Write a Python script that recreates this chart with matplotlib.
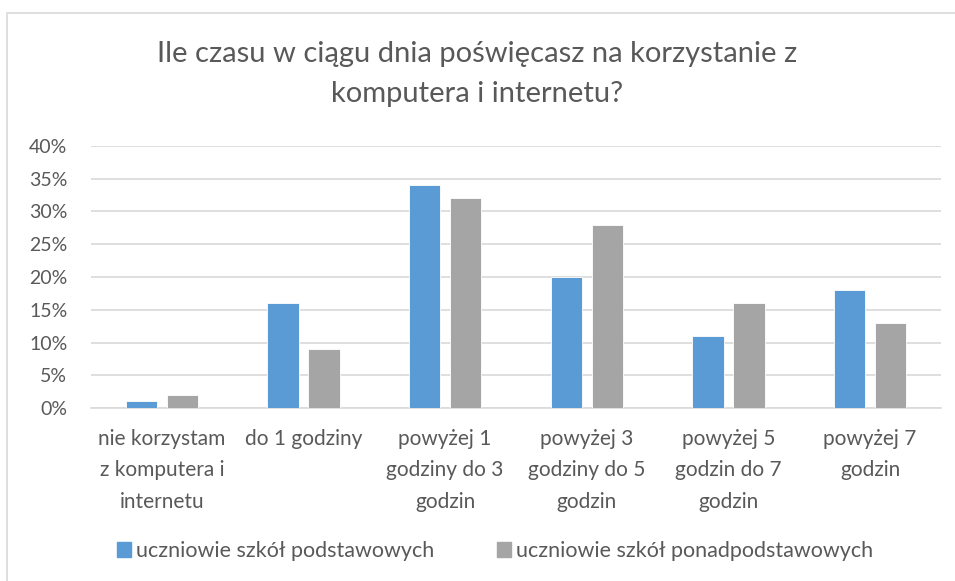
import matplotlib
matplotlib.use('Agg')
import matplotlib.pyplot as plt
from matplotlib.patches import Rectangle, Patch
import numpy as np

# dane
kategorie = ['nie korzystam\nz komputera i\ninternetu', 'do 1 godziny',
	'powyżej 1\ngodziny do 3\ngodzin', 'powyżej 3\ngodziny do 5\ngodzin',
	'powyżej 5\ngodzin do 7\ngodzin', 'powyżej 7\ngodzin']
podstawowe = [1, 16, 34, 20, 11, 18]
ponadpodstawowe = [2, 9, 32, 28, 16, 13]
serie = ['uczniowie szkół podstawowych', 'uczniowie szkół ponadpodstawowych']
tytul = 'Ile czasu w ciągu dnia poświęcasz na korzystanie z\nkomputera i internetu?'

kolor_niebieski = '#5B9BD5'
kolor_szary = '#A5A5A5'
kolor_tekstu = '#595959'
kolor_siatki = '#D9D9D9'

plt.rcParams['font.family'] = ['Lato', 'DejaVu Sans']

W, H = 955, 581
fig = plt.figure(figsize=(W / 100, H / 100), dpi=100)

# ramka wykresu
fig.patches.append(Rectangle((7 / W, -0.1), 1.1, 1.1 - 13 / H,
	transform=fig.transFigure, fill=False, edgecolor=kolor_siatki, linewidth=1.2))

ax = fig.add_axes([91 / W, 1 - 408 / H, (941 - 91) / W, (408 - 146) / H])

x = np.arange(len(kategorie))
szer = 0.22
ax.bar(x - 0.145, podstawowe, szer, color=kolor_niebieski, edgecolor='white', linewidth=0.6, zorder=3)
ax.bar(x + 0.145, ponadpodstawowe, szer, color=kolor_szary, edgecolor='white', linewidth=0.6, zorder=3)

ax.set_xlim(-0.5, len(kategorie) - 0.5)
ax.set_ylim(0, 40)
ax.set_yticks(range(0, 41, 5))
ax.set_yticklabels([f'{v}%' for v in range(0, 41, 5)])
ax.set_xticks(x)
ax.set_xticklabels(kategorie, linespacing=1.72, fontsize=15)

ax.tick_params(axis='both', length=0, labelcolor=kolor_tekstu)
ax.tick_params(axis='y', pad=17, labelsize=14)
ax.tick_params(axis='x', pad=15)

ax.grid(axis='y', color=kolor_siatki, linewidth=1.2, zorder=0)
for s in ['top', 'right', 'left']:
	ax.spines[s].set_visible(False)
ax.spines['bottom'].set_color(kolor_siatki)
ax.spines['bottom'].set_linewidth(1.2)

fig.text(0.5, 1 - 74 / H, tytul, ha='center', va='center', fontsize=21,
	color=kolor_tekstu, linespacing=1.68)

uchwyty = [Patch(color=kolor_niebieski), Patch(color=kolor_szary)]
fig.legend(uchwyty, serie, loc='center', bbox_to_anchor=(495 / W, 1 - 551 / H),
	ncol=2, frameon=False, fontsize=15.5, labelcolor=kolor_tekstu,
	handlelength=0.65, handleheight=0.65, handletextpad=0.25, columnspacing=2.9)

plt.savefig('out.png', dpi=100)
